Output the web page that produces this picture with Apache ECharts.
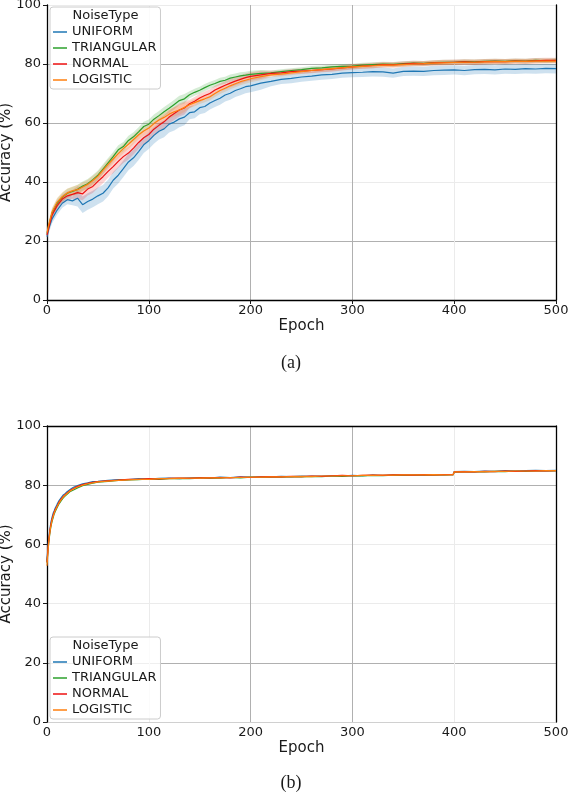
<!DOCTYPE html>
<html>
<head>
<meta charset="utf-8">
<script src="https://cdn.jsdelivr.net/npm/echarts@6/dist/echarts.min.js"></script>
<style>
  html, body { margin: 0; padding: 0; background: #fff; }
  #chart { width: 568px; height: 796px; }
</style>
</head>
<body>
<div id="chart"></div>
<script>
// ---- data ----
const noiseTypes = ['UNIFORM', 'TRIANGULAR', 'NORMAL', 'LOGISTIC'];
const lineColors = ['#1f77b4', '#2ca02c', '#ee1111', '#ff7f0e'];
const bandColors = ['rgba(31,119,180,0.22)', 'rgba(44,160,44,0.2)', 'rgba(238,17,17,0.18)', 'rgba(255,127,14,0.2)'];
const xTicks = [0, 100, 200, 300, 400, 500];
const yTicks = [0, 20, 40, 60, 80, 100];

// (a) epochs
const epochsA = [
  0, 2, 5, 10, 15, 20, 25, 30, 35, 40,
  45, 50, 55, 60, 65, 70, 75, 80, 85, 90,
  95, 100, 105, 110, 115, 120, 125, 130, 135, 140,
  145, 150, 155, 160, 165, 170, 175, 180, 185, 190,
  195, 200, 210, 220, 230, 240, 250, 260, 270, 280,
  290, 300, 310, 320, 330, 340, 350, 360, 370, 380,
  390, 400, 410, 420, 430, 440, 450, 460, 470, 480, 490, 500
];
const uniformA = [
  21.5, 24.5, 27.5, 30.5, 32.8, 34.0, 33.6, 34.5, 32.3, 33.4,
  34.2, 35.3, 36.2, 38.0, 40.6, 42.3, 44.5, 46.8, 48.2, 50.3,
  52.6, 54.0, 55.8, 57.2, 58.0, 59.6, 60.3, 61.4, 62.0, 63.5,
  63.8, 65.2, 65.6, 66.8, 67.6, 68.4, 69.5, 70.1, 71.0, 71.6,
  72.3, 72.6, 73.5, 74.1, 74.8, 75.1, 75.6, 75.9, 76.3, 76.5,
  76.9, 77.1, 77.2, 77.4, 77.3, 76.9, 77.5, 77.6, 77.5, 77.8,
  77.9, 78.0, 77.8, 78.1, 78.2, 78.0, 78.3, 78.2, 78.4, 78.3, 78.5, 78.4
];
const triangularA = [
  22.5, 25.5, 29.5, 32.8, 34.8, 36.2, 36.8, 37.5, 38.6, 39.4,
  40.8, 42.3, 44.4, 46.5, 48.6, 50.9, 52.0, 54.1, 55.3, 57.0,
  58.8, 59.6, 61.3, 62.5, 63.8, 65.0, 66.3, 67.6, 68.2, 69.6,
  70.4, 71.1, 72.0, 72.8, 73.4, 74.1, 74.5, 75.2, 75.6, 76.0,
  76.2, 76.5, 76.8, 77.0, 77.4, 77.8, 78.1, 78.5, 78.7, 79.0,
  79.2, 79.3, 79.6, 79.8, 80.0, 79.9, 80.1, 80.3, 80.2, 80.5,
  80.6, 80.6, 80.8, 80.7, 80.9, 81.0, 80.9, 81.1, 81.0, 81.2, 81.1, 81.2
];
const normalA = [
  22.0, 25.0, 28.8, 32.0, 34.2, 35.3, 35.8, 36.4, 36.0, 37.6,
  38.5, 40.2, 41.8, 43.6, 45.2, 47.0, 48.6, 49.8, 51.5, 53.4,
  55.0, 56.1, 57.9, 59.2, 60.4, 62.0, 63.2, 64.4, 65.1, 66.5,
  67.4, 68.5, 69.3, 70.0, 71.2, 72.0, 72.8, 73.5, 74.2, 74.8,
  75.4, 75.8, 76.3, 76.8, 77.0, 77.4, 77.6, 77.8, 78.1, 78.3,
  78.7, 79.0, 79.3, 79.5, 79.8, 79.7, 80.0, 80.2, 80.1, 80.4,
  80.5, 80.6, 80.7, 80.6, 80.8, 80.9, 80.8, 81.0, 80.9, 81.1, 81.2, 81.2
];
const logisticA = [
  22.8, 26.0, 29.8, 33.2, 35.0, 36.3, 37.0, 37.4, 38.3, 39.2,
  40.5, 42.0, 44.0, 46.0, 47.8, 49.6, 51.3, 52.8, 54.4, 56.0,
  57.3, 58.3, 59.8, 61.0, 61.9, 63.0, 63.8, 64.4, 65.3, 66.2,
  66.9, 67.6, 68.2, 68.9, 70.0, 71.0, 71.8, 72.6, 73.3, 74.0,
  74.5, 75.0, 75.7, 76.3, 76.6, 77.0, 77.4, 77.8, 78.1, 78.4,
  78.7, 79.0, 79.2, 79.4, 79.6, 79.6, 79.8, 80.0, 80.1, 80.3,
  80.4, 80.5, 80.6, 80.6, 80.7, 80.8, 80.8, 80.9, 80.9, 81.0, 81.0, 81.0
];
// half width of the shaded band in (a), from each start epoch onward
const bandStartEpochs = [0, 30, 140, 220];
const uniformBand = [1.5, 2.8, 2.2, 1.6];
const triangularBand = [1.5, 1.6, 1.2, 0.8];
const normalBand = [1.5, 2.2, 1.4, 0.9];
const logisticBand = [1.5, 1.6, 1.2, 0.8];

// (b) epochs
const epochsB = [
  0, 1, 2, 3, 4, 5, 6, 7, 8,
  10, 12, 14, 16, 18, 20, 23, 26,
  30, 35, 40, 45, 50,
  60, 70, 80, 90, 100, 110, 120, 130, 140, 150,
  160, 170, 180, 190, 200, 210, 220, 230, 240, 250,
  260, 270, 280, 290, 300, 310, 320, 330, 340, 350,
  360, 370, 380, 390, 399,
  400, 410, 420, 430, 440, 450, 460, 470, 480, 490, 500
];
const uniformB = [
  54.5, 59.5, 63.0, 65.6, 67.8, 69.2, 70.5, 71.3, 72.2,
  73.6, 74.9, 75.8, 76.7, 77.2, 77.9, 78.6, 79.3,
  79.9, 80.5, 80.8, 81.2, 81.3,
  81.6, 81.9, 81.9, 82.2, 82.1, 82.3, 82.4, 82.2, 82.5, 82.6,
  82.4, 82.7, 82.6, 82.8, 82.7, 82.9, 82.8, 83.0, 82.9, 83.1,
  83.0, 83.1, 83.2, 83.1, 83.3, 83.2, 83.4, 83.3, 83.5, 83.4,
  83.5, 83.4, 83.6, 83.5, 83.7,
  84.6, 84.7, 84.6, 84.8, 84.7, 84.9, 84.8, 84.9, 85.0, 84.9, 85.0
];
const triangularB = [
  53.8, 58.2, 61.5, 64.2, 66.3, 67.8, 69.0, 70.2, 71.0,
  72.5, 73.8, 74.8, 75.7, 76.4, 77.0, 77.9, 78.4,
  79.1, 79.8, 80.3, 80.7, 81.0,
  81.3, 81.6, 81.8, 81.9, 82.1, 82.0, 82.2, 82.3, 82.2, 82.4,
  82.5, 82.4, 82.6, 82.5, 82.7, 82.6, 82.8, 82.7, 82.9, 82.8,
  83.0, 82.9, 83.1, 83.0, 83.2, 83.1, 83.3, 83.2, 83.4, 83.3,
  83.4, 83.5, 83.4, 83.6, 83.5,
  84.4, 84.5, 84.6, 84.5, 84.7, 84.6, 84.8, 84.7, 84.8, 84.9, 84.8
];
const normalB = [
  54.0, 58.8, 62.3, 65.0, 67.0, 68.5, 69.8, 70.8, 71.7,
  73.0, 74.4, 75.4, 76.2, 76.9, 77.5, 78.3, 78.9,
  79.6, 80.2, 80.6, 81.0, 81.2,
  81.5, 81.7, 82.0, 82.0, 82.2, 82.1, 82.3, 82.4, 82.3, 82.5,
  82.5, 82.6, 82.5, 82.7, 82.6, 82.8, 82.9, 82.8, 83.0, 82.9,
  83.1, 83.0, 83.2, 83.3, 83.2, 83.3, 83.4, 83.3, 83.5, 83.5,
  83.4, 83.6, 83.5, 83.6, 83.6,
  84.5, 84.6, 84.5, 84.7, 84.6, 84.8, 84.7, 84.8, 84.9, 84.8, 84.9
];
const logisticB = [
  52.8, 57.8, 61.8, 64.6, 66.6, 68.2, 69.4, 70.5, 71.4,
  72.8, 74.1, 75.1, 76.0, 76.7, 77.3, 78.1, 78.7,
  79.4, 80.0, 80.5, 80.8, 81.1,
  81.4, 81.6, 81.8, 82.0, 82.0, 82.2, 82.2, 82.3, 82.4, 82.4,
  82.5, 82.5, 82.6, 82.6, 82.7, 82.7, 82.8, 82.8, 82.9, 83.0,
  82.9, 83.1, 83.1, 83.2, 83.2, 83.3, 83.3, 83.4, 83.4, 83.5,
  83.5, 83.5, 83.6, 83.5, 83.6,
  84.5, 84.5, 84.6, 84.6, 84.7, 84.7, 84.8, 84.8, 84.8, 84.9, 84.9
];

const seriesA = [uniformA, triangularA, normalA, logisticA];
const seriesB = [uniformB, triangularB, normalB, logisticB];
const bandsA = [uniformBand, triangularBand, normalBand, logisticBand];

// ---- styling ----
const FONT = 'DejaVu Sans';
const TEXT = '#1a1a1a';
const DARK = '#b0b0b0';
const LIGHT = '#ebebeb';
const SPINE = '#000';

// gridline colour per tick (min to max); the library cycles colour per line
const xGrid = ['transparent', LIGHT, DARK, DARK, LIGHT, 'transparent'];
const yGridA = ['transparent', DARK, LIGHT, DARK, DARK, LIGHT];
const yGridB = ['#d0d0d0', DARK, LIGHT, LIGHT, DARK, 'transparent'];

function bandAt(widths, epoch) {
    let w = widths[0];
    bandStartEpochs.forEach((start, i) => {
        if (epoch >= start) w = widths[i];
    });
    return w;
}

function lineSeries(name, color, epochs, values, gi) {
    return {
        type: 'line',
        name: name,
        xAxisIndex: gi === 0 ? 0 : 1,
        yAxisIndex: gi === 0 ? 0 : 2,
        data: epochs.map((e, i) => [e, values[i]]),
        symbol: 'none',
        lineStyle: { width: 1.2, color: color },
        itemStyle: { color: color },
        z: 3
    };
}

// shaded band drawn as one polygon through the axis scales
function bandSeries(idx) {
    const values = seriesA[idx];
    const widths = bandsA[idx];
    const lo = epochsA.map((e, i) => values[i] - bandAt(widths, e));
    const hi = epochsA.map((e, i) => values[i] + bandAt(widths, e));
    return {
        type: 'custom',
        name: noiseTypes[idx] + ' band',
        xAxisIndex: 0,
        yAxisIndex: 0,
        silent: true,
        clip: true,
        z: 2,
        data: epochsA.map((e, i) => [e, lo[i], hi[i]]),
        encode: { x: 0, y: [1, 2] },
        renderItem: function (params, api) {
            if (params.dataIndex !== 0) return null;
            const upper = epochsA.map((e, i) => api.coord([e, hi[i]]));
            const lower = epochsA.map((e, i) => api.coord([e, lo[i]])).reverse();
            return {
                type: 'polygon',
                shape: { points: upper.concat(lower) },
                style: { fill: bandColors[idx] }
            };
        }
    };
}

const series = [];
noiseTypes.forEach((n, i) => series.push(bandSeries(i)));
noiseTypes.forEach((n, i) => series.push(lineSeries(n, lineColors[i], epochsA, seriesA[i], 0)));
noiseTypes.forEach((n, i) => series.push(lineSeries(n, lineColors[i], epochsB, seriesB[i], 1)));

const tickLabel = { color: TEXT, fontFamily: FONT, fontSize: 13 };
const axisName = { color: TEXT, fontFamily: FONT, fontSize: 15 };

function mainX(gi, showLine) {
    return {
        gridIndex: gi, type: 'value', position: 'bottom',
        min: xTicks[0], max: xTicks[xTicks.length - 1], interval: 100,
        name: 'Epoch', nameLocation: 'middle', nameGap: 19, nameTextStyle: axisName,
        nameMoveOverlap: false,
        axisLine: { show: showLine, onZero: false, lineStyle: { color: SPINE, width: 1.3 } },
        axisTick: { show: showLine, length: 4, lineStyle: { color: TEXT } },
        axisLabel: Object.assign({ margin: 4 }, tickLabel),
        splitLine: { show: true, lineStyle: { color: xGrid, width: 1 } }
    };
}

function mainY(gi, gridColors) {
    return {
        gridIndex: gi, type: 'value', position: 'left',
        min: yTicks[0], max: yTicks[yTicks.length - 1], interval: 20,
        name: 'Accuracy (%)', nameLocation: 'middle', nameGap: 33, nameTextStyle: axisName,
        nameMoveOverlap: false,
        axisLine: { show: true, onZero: false, lineStyle: { color: SPINE, width: 1.3 } },
        axisTick: { show: true, length: 4, lineStyle: { color: TEXT } },
        axisLabel: Object.assign({ margin: 6 }, tickLabel),
        splitLine: { show: true, lineStyle: { color: gridColors, width: 1 } }
    };
}

function spineAxis(gi, position, isX) {
    return {
        gridIndex: gi, type: 'value', position: position,
        min: 0, max: isX ? 500 : 100,
        axisLine: { show: true, onZero: false, lineStyle: { color: SPINE, width: 1.3 } },
        axisTick: { show: false },
        axisLabel: { show: false },
        splitLine: { show: false }
    };
}

function legendAt(top) {
    return {
        data: noiseTypes,
        orient: 'vertical',
        left: 50,
        top: top,
        icon: 'rect',
        itemWidth: 14,
        itemHeight: 1.5,
        itemGap: 0,
        padding: [17, 4, 1, 3],
        backgroundColor: 'rgba(255,255,255,0.8)',
        borderColor: '#cccccc',
        borderWidth: 1,
        borderRadius: 3,
        selectedMode: false,
        textStyle: { color: TEXT, fontFamily: FONT, fontSize: 13, lineHeight: 16 }
    };
}

function label(text, x, y, font, align) {
    return {
        type: 'text', x: x, y: y, z: 100,
        style: { text: text, font: font, fill: TEXT, textAlign: align, textVerticalAlign: 'middle' }
    };
}

const option = {
    animation: false,
    backgroundColor: '#fff',
    grid: [
        { left: 47, top: 5, width: 509, height: 295, outerBoundsMode: 'none', containLabel: false },
        { left: 47, top: 426, width: 509, height: 296, outerBoundsMode: 'none', containLabel: false }
    ],
    xAxis: [mainX(0, true), mainX(1, false), spineAxis(1, 'top', true)],
    yAxis: [mainY(0, yGridA), spineAxis(0, 'right', false), mainY(1, yGridB), spineAxis(1, 'right', false)],
    legend: [legendAt(7), legendAt(637)],
    graphic: [
        label('NoiseType', 72.5, 15.5, '13px "DejaVu Sans"', 'left'),
        label('NoiseType', 72.5, 645.5, '13px "DejaVu Sans"', 'left'),
        label('(a)', 291, 363, '18px "Liberation Serif"', 'center'),
        label('(b)', 291, 783, '18px "Liberation Serif"', 'center')
    ],
    series: series
};

const chart = echarts.init(document.getElementById('chart'));
chart.setOption(option);
window.addEventListener('resize', () => chart.resize());
</script>
</body>
</html>
